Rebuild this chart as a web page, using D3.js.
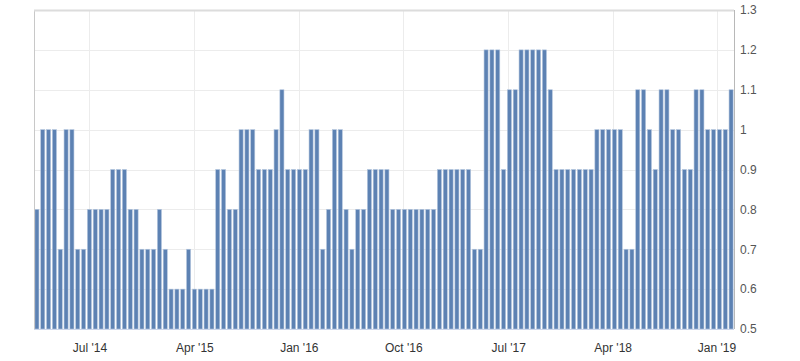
<!DOCTYPE html>
<html>
<head>
<meta charset="UTF-8">
<title>Bars</title>
<style>
body { margin: 0; background: #fff; }
svg { display: block; font-family: "Liberation Sans", Arial, sans-serif; }
.grid line { stroke: #ececec; stroke-width: 1px; }
.xaxis text { fill: #333; font-size: 12px; }
.yaxis text { fill: #555; font-size: 12px; }
</style>
</head>
<body>
<svg width="800" height="361"></svg>
<script src="https://d3js.org/d3.v7.min.js"></script>
<script>
// one value per bar (two bars a month, Feb 2014 .. Jan 2019)
let values = [
  0.8, 1.0, 1.0, 1.0, 0.7, 1.0, 1.0, 0.7, 0.7, 0.8,
  0.8, 0.8, 0.8, 0.9, 0.9, 0.9, 0.8, 0.8, 0.7, 0.7,
  0.7, 0.8, 0.7, 0.6, 0.6, 0.6, 0.7, 0.6, 0.6, 0.6,
  0.6, 0.9, 0.9, 0.8, 0.8, 1.0, 1.0, 1.0, 0.9, 0.9,
  0.9, 1.0, 1.1, 0.9, 0.9, 0.9, 0.9, 1.0, 1.0, 0.7,
  0.8, 1.0, 1.0, 0.8, 0.7, 0.8, 0.8, 0.9, 0.9, 0.9,
  0.9, 0.8, 0.8, 0.8, 0.8, 0.8, 0.8, 0.8, 0.8, 0.9,
  0.9, 0.9, 0.9, 0.9, 0.9, 0.7, 0.7, 1.2, 1.2, 1.2,
  0.9, 1.1, 1.1, 1.2, 1.2, 1.2, 1.2, 1.2, 1.1, 0.9,
  0.9, 0.9, 0.9, 0.9, 0.9, 0.9, 1.0, 1.0, 1.0, 1.0,
  1.0, 0.7, 0.7, 1.1, 1.1, 1.0, 0.9, 1.1, 1.1, 1.0,
  1.0, 0.9, 0.9, 1.1, 1.1, 1.0, 1.0, 1.0, 1.0, 1.1
];

// where the month labels fall, in bar units
let tickPos = [9.0, 27.0, 44.9, 62.8, 80.8, 98.7, 116.5];
let tickLabels = ["Jul '14", "Apr '15", "Jan '16", "Oct '16", "Jul '17", "Apr '18", "Jan '19"];
let yTicks = [0.5, 0.6, 0.7, 0.8, 0.9, 1.0, 1.1, 1.2, 1.3];

let plotL = 34, plotR = 734, plotT = 10, plotB = 329;
let svg = d3.select("svg");

let x = d3.scaleLinear().domain([-0.5, values.length - 0.5]).range([plotL, plotR]);
let y = d3.scaleLinear().domain([0.5, 1.3]).range([plotB, plotT]);
let barW = (x(1) - x(0)) * 0.7;

// gridlines
let grid = svg.append("g").attr("class", "grid");
grid.selectAll(".h").data(yTicks).enter().append("line")
    .attr("x1", plotL).attr("x2", plotR)
    .attr("y1", d => Math.round(y(d)) + 0.5).attr("y2", d => Math.round(y(d)) + 0.5);
grid.selectAll(".v").data(tickPos).enter().append("line")
    .attr("y1", plotT).attr("y2", plotB)
    .attr("x1", d => Math.round(x(d)) + 0.5).attr("x2", d => Math.round(x(d)) + 0.5);

// bars
svg.append("g").selectAll("rect")
    .data(values)
    .enter()
    .append("rect")
    .attr("x", (d, i) => x(i) - barW / 2)
    .attr("width", barW)
    .attr("y", d => y(d))
    .attr("height", d => plotB - y(d))
    .attr("fill", "#5d82b3")
    .attr("stroke", "#b4c6de")
    .attr("stroke-width", 0.6);

// plot frame
svg.append("line").attr("x1", plotL + 0.5).attr("x2", plotL + 0.5).attr("y1", plotT).attr("y2", plotB)
    .attr("stroke", "#c8c8c8");
svg.append("line").attr("x1", plotL).attr("x2", plotR).attr("y1", plotT + 0.5).attr("y2", plotT + 0.5)
    .attr("stroke", "#dcdcdc").attr("stroke-width", 2);
svg.append("line").attr("x1", plotR + 0.5).attr("x2", plotR + 0.5).attr("y1", plotT).attr("y2", plotB)
    .attr("stroke", "#b8b8b8");
svg.append("line").attr("x1", plotL).attr("x2", plotR).attr("y1", plotB + 0.5).attr("y2", plotB + 0.5)
    .attr("stroke", "#ccd6eb");

// axes
let xAxis = d3.axisBottom(x).tickValues(tickPos)
    .tickFormat((d, i) => tickLabels[i]).tickSize(0).tickPadding(14);
svg.append("g").attr("class", "xaxis")
    .attr("transform", "translate(0," + plotB + ")")
    .call(xAxis)
    .call(g => g.select(".domain").remove());

let yAxis = d3.axisRight(y).tickValues(yTicks)
    .tickFormat(d => String(+d.toFixed(1))).tickSize(0).tickPadding(6);
svg.append("g").attr("class", "yaxis")
    .attr("transform", "translate(" + plotR + ",0)")
    .call(yAxis)
    .call(g => g.select(".domain").remove());
</script>
</body>
</html>
